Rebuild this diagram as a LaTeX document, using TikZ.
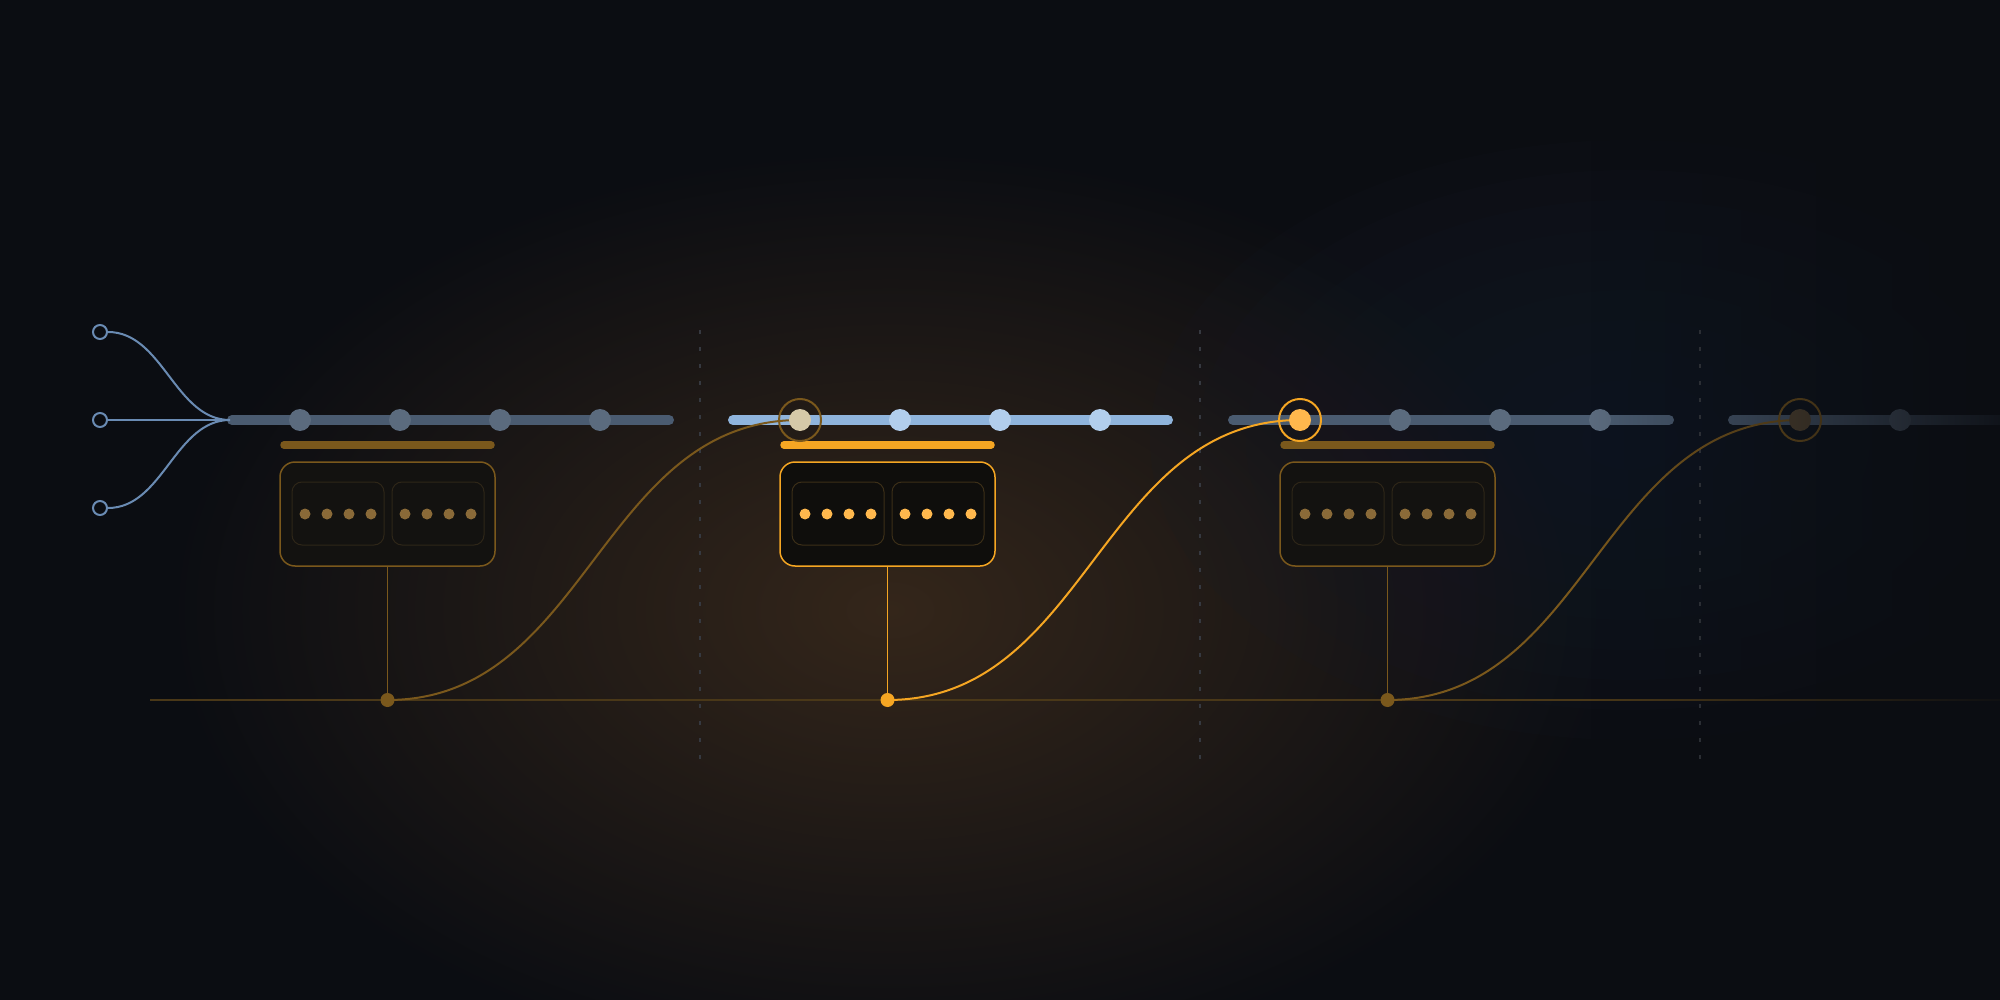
\documentclass[tikz,border=0pt]{standalone}
\usepackage{tikz}
\usetikzlibrary{calc,fadings}

\definecolor{bgdark}{HTML}{0B0D12}
\definecolor{glowamber}{HTML}{34261A}
\definecolor{glowblue}{HTML}{161C2A}
\definecolor{slatebar}{HTML}{4A5B70}
\definecolor{slatedot}{HTML}{5B6B7E}
\definecolor{skybar}{HTML}{8FB4DC}
\definecolor{skydot}{HTML}{B2CEEC}
\definecolor{inputblue}{HTML}{6A8BB3}
\definecolor{amber}{HTML}{F5A623}
\definecolor{amberlight}{HTML}{FFB84D}
\definecolor{amberdim}{HTML}{7A581C}
\definecolor{amberdot}{HTML}{8A6A38}
\definecolor{amberfaint}{HTML}{4A3818}
\definecolor{beige}{HTML}{D6C9A8}
\definecolor{hubdark}{HTML}{5A4A34}
\definecolor{boxfill}{HTML}{131210}
\definecolor{boxfillact}{HTML}{0F0E0C}
\definecolor{innerdim}{HTML}{2E2618}
\definecolor{inneract}{HTML}{3C2F18}
\definecolor{dashgray}{HTML}{363940}

\tikzfading[name=fade to dark, left color=transparent!100, right color=transparent!0]

\def\dotquad(#1,#2)[#3]{\fill[#3] (#1,#2) circle[radius=5.5pt] (#1+22,#2) circle[radius=5.5pt] (#1+44,#2) circle[radius=5.5pt] (#1+66,#2) circle[radius=5.5pt];}

\tikzset{
	bead/.style={circle, inner sep=0pt, minimum size=22pt},
	halo/.style={circle, draw, line width=2pt, inner sep=0pt, minimum size=42pt},
	footdot/.style={circle, inner sep=0pt, minimum size=14pt},
	port/.style={circle, draw=inputblue, fill=bgdark, line width=2pt, inner sep=0pt, minimum size=14pt},
	stagebox/.style={draw, rounded corners=15pt, line width=1.5pt, minimum width=215pt, minimum height=104pt, inner sep=0pt},
	cellbox/.style={draw, rounded corners=10pt, line width=1pt, minimum width=92pt, minimum height=63pt, inner sep=0pt},
	rail/.style={line width=10pt, line cap=round},
	band/.style={line width=7.5pt, line cap=round},
	divider/.style={dashgray, line width=1.5pt, dash pattern=on 4pt off 13pt},
	wave/.style={line width=2pt},
	feed/.style={inputblue, line width=2pt},
}

\begin{document}
\begin{tikzpicture}[x=1pt, y=-1pt]
			%%%%% START %%%%%
			
			\fill[bgdark] (0,0) rectangle (2000,1000);
			\useasboundingbox (0,0) rectangle (2000,1000);
			\shade[inner color=glowamber, outer color=bgdark] (890,610) ellipse [x radius=720pt, y radius=460pt];
			% faint cool glow on the right
			\foreach \k in {1,...,10}
				\fill[glowblue, fill opacity=0.1] (1630,440) ellipse [x radius=48pt*\k, y radius=30pt*\k];
			
			\draw[divider] (700,330) -- (700,760);
			\draw[divider] (1200,330) -- (1200,760);
			\draw[divider] (1700,330) -- (1700,760);
			
			\draw[amberfaint, line width=1.5pt] (150,700) -- (2000,700);
			
			\draw[rail, slatebar] (232,420) -- (669,420);
			\draw[rail, skybar] (733,420) -- (1168,420);
			\draw[rail, slatebar] (1233,420) -- (1669,420);
			\draw[rail, slatebar] (1733,420) -- (2000,420);
			
			\draw[band, amberdim] (284,445) -- (491,445);
			\draw[band, amber] (784,445) -- (991,445);
			\draw[band, amberdim] (1284,445) -- (1491,445);
			
			% inputs
			\node[port] (in1) at (100,332) {};
			\node[port] (in2) at (100,420) {};
			\node[port] (in3) at (100,508) {};
			\coordinate (merge) at (230,420);
			\draw[feed] (in1.east) .. controls +(55,0) and +(-55,0) .. (merge);
			\draw[feed] (in2.east) -- (merge);
			\draw[feed] (in3.east) .. controls +(55,0) and +(-55,0) .. (merge);
			
			% stage boxes
			\node[stagebox, draw=amberdim, fill=boxfill] (box1) at (387.5,514) {};
			\node[cellbox, draw=innerdim] (cell1a) at (338,513.5) {};
			\node[cellbox, draw=innerdim] (cell1b) at (438,513.5) {};
			\dotquad(305,514)[amberdot]
			\dotquad(405,514)[amberdot]
			
			\node[stagebox, draw=amber, fill=boxfillact] (box2) at (887.5,514) {};
			\node[cellbox, draw=inneract] (cell2a) at (838,513.5) {};
			\node[cellbox, draw=inneract] (cell2b) at (938,513.5) {};
			\dotquad(805,514)[amberlight]
			\dotquad(905,514)[amberlight]
			
			\node[stagebox, draw=amberdim, fill=boxfill] (box3) at (1387.5,514) {};
			\node[cellbox, draw=innerdim] (cell3a) at (1338,513.5) {};
			\node[cellbox, draw=innerdim] (cell3b) at (1438,513.5) {};
			\dotquad(1305,514)[amberdot]
			\dotquad(1405,514)[amberdot]
			
			% drops and waves
			\coordinate (foot1) at (387.5,700);
			\coordinate (foot2) at (887.5,700);
			\coordinate (foot3) at (1387.5,700);
			\coordinate (hub2) at (800,420);
			\coordinate (hub3) at (1300,420);
			\coordinate (hub4) at (1800,420);
			
			\draw[amberdim, line width=1.5pt] (box1.south) -- (foot1);
			\draw[amber, line width=1.5pt] (box2.south) -- (foot2);
			\draw[amberdim, line width=1.5pt] (box3.south) -- (foot3);
			
			\draw[wave, amberdim] (foot1) .. controls +(200,0) and +(-200,0) .. (hub2);
			\draw[wave, amber] (foot2) .. controls +(200,0) and +(-200,0) .. (hub3);
			\draw[wave, amberdim] (foot3) .. controls +(200,0) and +(-200,0) .. (hub4);
			
			% beads
			\node[bead, fill=slatedot] (b1) at (300,420) {};
			\node[bead, fill=slatedot] (b2) at (400,420) {};
			\node[bead, fill=slatedot] (b3) at (500,420) {};
			\node[bead, fill=slatedot] (b4) at (600,420) {};
			
			\node[halo, draw=amberdim] (halo2) at (hub2) {};
			\node[bead, fill=beige] (b5) at (hub2) {};
			\node[bead, fill=skydot] (b6) at (900,420) {};
			\node[bead, fill=skydot] (b7) at (1000,420) {};
			\node[bead, fill=skydot] (b8) at (1100,420) {};
			
			\node[halo, draw=amber] (halo3) at (hub3) {};
			\node[bead, fill=amberlight] (b9) at (hub3) {};
			\node[bead, fill=slatedot] (b10) at (1400,420) {};
			\node[bead, fill=slatedot] (b11) at (1500,420) {};
			\node[bead, fill=slatedot] (b12) at (1600,420) {};
			
			\node[halo, draw=amberdim] (halo4) at (hub4) {};
			\node[bead, fill=hubdark] (b13) at (hub4) {};
			\node[bead, fill=slatedot] (b14) at (1900,420) {};
			
			\node[footdot, fill=amberdim] (f1) at (foot1) {};
			\node[footdot, fill=amber] (f2) at (foot2) {};
			\node[footdot, fill=amberdim] (f3) at (foot3) {};
			
			\fill[bgdark, path fading=fade to dark] (1590,0) rectangle (2040,1000);
			
			%%%%% END %%%%%
\end{tikzpicture}
\end{document}
